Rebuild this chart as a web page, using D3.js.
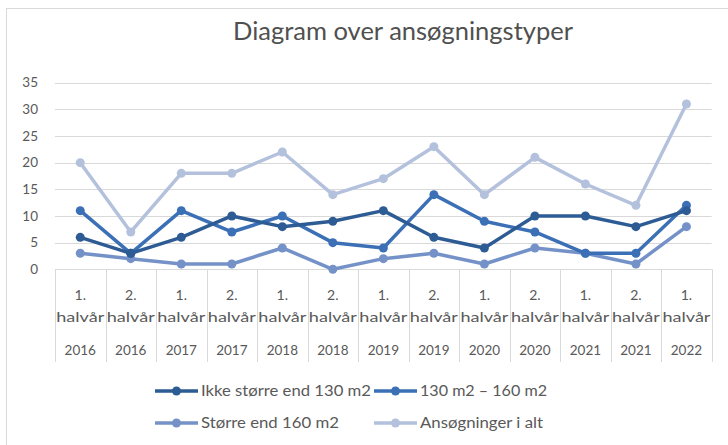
<!DOCTYPE html>
<html><head><meta charset="utf-8">
<script src="https://cdn.jsdelivr.net/npm/d3@7"></script>
<style>body{margin:0;background:#fff}svg{display:block}text{font-family:Lato,"Open Sans",sans-serif}</style>
</head><body>
<script>
const halves = ["1.","2.","1.","2.","1.","2.","1.","2.","1.","2.","1.","2.","1."];
const years = ["2016","2016","2017","2017","2018","2018","2019","2019","2020","2020","2021","2021","2022"];
const seriesNames = ["Ikke større end 130 m2","130 m2 – 160 m2","Større end 160 m2","Ansøgninger i alt"];
const ikke = [6,3,6,10,8,9,11,6,4,10,10,8,11];
const mellem = [11,3,11,7,10,5,4,14,9,7,3,3,12];
const stoerre = [3,2,1,1,4,0,2,3,1,4,3,1,8];
const ialt = [20,7,18,18,22,14,17,23,14,21,16,12,31];
const yTicks = [0,5,10,15,20,25,30,35];
const colors = ["#2d5b94","#3b6fb6","#7592c8","#b3c1dc"];
const title = "Diagram over ansøgningstyper";

const W=728,H=445;
const svg=d3.select("body").append("svg").attr("width",W).attr("height",H);
svg.append("rect").attr("x",6.5).attr("y",8.5).attr("width",W-4).attr("height",H).attr("fill","none").attr("stroke","#d9d9d9");

const cats = halves.map((h,i)=>i);
const x=d3.scaleBand().domain(cats).range([55,711.7]);
const y=d3.scaleLinear().domain([0,35]).range([269.3,82.7]);

svg.append("text").attr("x",403).attr("y",40).attr("text-anchor","middle")
 .attr("font-size",25).attr("font-weight",400).attr("fill","#505050")
 .attr("textLength",340).attr("lengthAdjust","spacingAndGlyphs").text(title);

const g=svg.append("g");
g.selectAll("line.grid").data(yTicks).join("line")
 .attr("x1",55).attr("x2",711.7).attr("y1",d=>Math.round(y(d))+0.5).attr("y2",d=>Math.round(y(d))+0.5)
 .attr("stroke","#d9d9d9").attr("stroke-width",1);
g.selectAll("text.yt").data(yTicks).join("text")
 .attr("x",38).attr("y",d=>y(d)).attr("dy","0.35em").attr("text-anchor","end")
 .attr("font-size",13.5).attr("fill","#595959").text(d=>d);

const bounds=cats.map(i=>x(i)).concat([x(12)+x.bandwidth()]);
g.selectAll("line.sep").data(bounds).join("line")
 .attr("x1",d=>Math.round(d)+0.5).attr("x2",d=>Math.round(d)+0.5).attr("y1",269.3).attr("y2",362)
 .attr("stroke","#d9d9d9");
const lab=g.selectAll("g.lab").data(cats).join("g").attr("transform",i=>`translate(${x(i)+x.bandwidth()/2},0)`);
lab.append("text").attr("y",295).attr("dy","0.35em").attr("text-anchor","middle").attr("font-size",14).attr("fill","#595959").text(i=>halves[i]);
lab.append("text").attr("y",317).attr("dy","0.35em").attr("text-anchor","middle").attr("font-size",14).attr("fill","#595959")
 .attr("textLength",48).attr("lengthAdjust","spacingAndGlyphs").text("halvår");
lab.append("text").attr("y",350).attr("dy","0.35em").attr("text-anchor","middle").attr("font-size",13.5).attr("fill","#595959").text(i=>years[i]);

const data=[ikke,mellem,stoerre,ialt];
const line=d3.line().x((d,i)=>x(i)+x.bandwidth()/2).y(d=>y(d));
[3,2,1,0].forEach(k=>{
  const s=svg.append("g");
  s.append("path").attr("d",line(data[k])).attr("fill","none").attr("stroke",colors[k]).attr("stroke-width",3.5).attr("stroke-linejoin","round");
  s.selectAll("circle").data(data[k]).join("circle").attr("cx",(d,i)=>x(i)+x.bandwidth()/2).attr("cy",d=>y(d)).attr("r",4.5).attr("fill",colors[k]);
});

const leg=[{x:155,y:391,w:170},{x:374,y:391,w:127},{x:155,y:423,w:138},{x:374,y:423,w:123}];
leg.forEach((p,k)=>{
  const lg=svg.append("g").attr("transform",`translate(${p.x},${p.y})`);
  lg.append("line").attr("x1",0).attr("x2",43).attr("stroke",colors[k]).attr("stroke-width",3.5);
  lg.append("circle").attr("cx",21.5).attr("r",4.5).attr("fill",colors[k]);
  lg.append("text").attr("x",46).attr("dy","0.35em").attr("font-size",14.5).attr("fill","#595959")
   .attr("textLength",p.w).attr("lengthAdjust","spacingAndGlyphs").text(seriesNames[k]);
});
</script>
</body></html>
